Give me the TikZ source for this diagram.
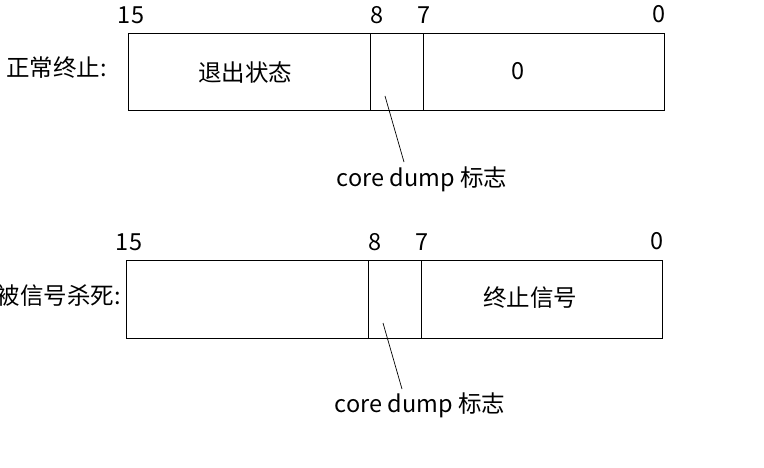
\documentclass[tikz,border=0pt]{standalone}
\usepackage{fontspec}
\setmainfont{Noto Sans CJK SC}
\begin{document}
\begin{tikzpicture}[x=1pt,y=-1pt,
  field/.style={draw=black,line width=1.3pt,rectangle,inner sep=0pt,anchor=north west},
  lbl/.style={font=\fontsize{23.5}{28}\selectfont,inner sep=0pt},
  lead/.style={line width=0.7pt}]
\useasboundingbox (0,0) rectangle (764,468);
% ---- top ----
\node[field,minimum width=242pt,minimum height=77pt] (a1) at (128,33) {};
\node[field,minimum width=53pt,minimum height=77pt] (b1) at (370,33) {};
\node[field,minimum width=241pt,minimum height=77pt] (c1) at (423,33) {};
\node[lbl] (t1) at (245,73) {退出状态};
\node[lbl] (z1) at (518,71) {0};
\node[lbl,anchor=west] (n1) at (6,68) {正常终止:};
\node[lbl] (h15a) at (131,15) {15};
\node[lbl] (h8a) at (377,15) {8};
\node[lbl] (h7a) at (424,15) {7};
\node[lbl] (h0a) at (659,14) {0};
\node[lbl] (cd1) at (422,179) {core dump 标志};
\coordinate (s1) at (385,96);
\coordinate (e1) at (404,162);
\draw[lead] (s1) -- (e1);
% ---- bottom ----
\node[field,minimum width=242pt,minimum height=78pt] (a2) at (126,260) {};
\node[field,minimum width=53pt,minimum height=78pt] (b2) at (368,260) {};
\node[field,minimum width=241pt,minimum height=78pt] (c2) at (421,260) {};
\node[lbl] (t2) at (530,298) {终止信号};
\node[lbl,anchor=east] (n2) at (121,296) {被信号杀死:};
\node[lbl] (h15b) at (129,242) {15};
\node[lbl] (h8b) at (375,242) {8};
\node[lbl] (h7b) at (422,242) {7};
\node[lbl] (h0b) at (657,241) {0};
\node[lbl] (cd2) at (420,405) {core dump 标志};
\coordinate (s2) at (383,323);
\coordinate (e2) at (402,389);
\draw[lead] (s2) -- (e2);
\end{tikzpicture}
\end{document}
